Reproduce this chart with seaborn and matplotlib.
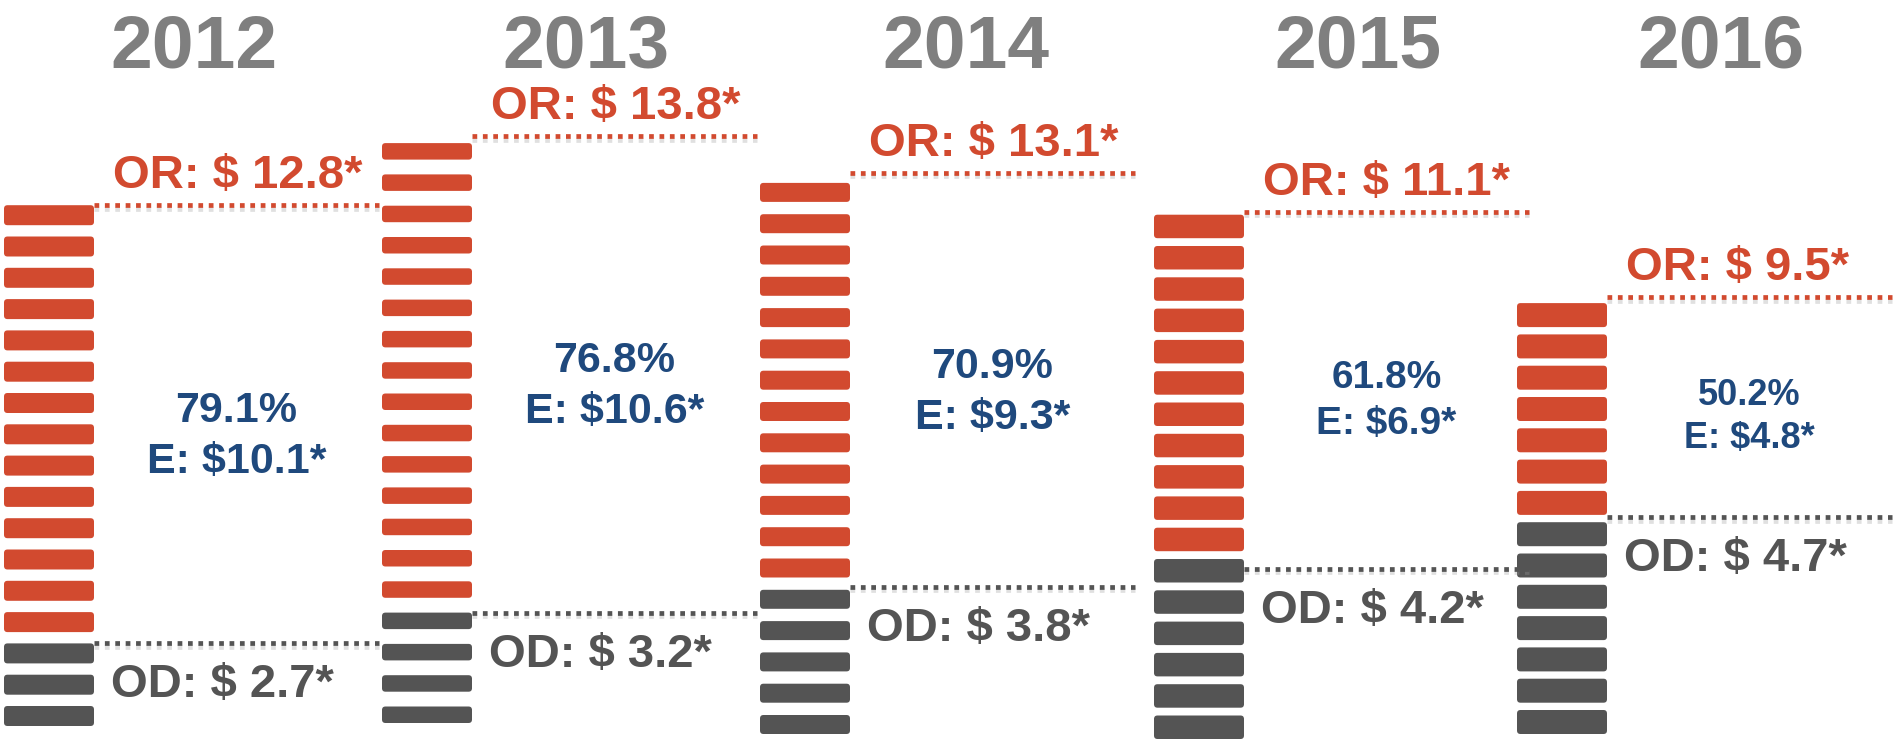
import matplotlib
matplotlib.use("Agg")
import matplotlib.pyplot as plt
import matplotlib.patheffects as pe
from matplotlib.patches import FancyBboxPatch
import seaborn as sns

# ---------------- data ----------------
years = ["2012", "2013", "2014", "2015", "2016"]
or_values = [12.8, 13.8, 13.1, 11.1, 9.5]
od_values = [2.7, 3.2, 3.8, 4.2, 4.7]
e_values = [10.1, 10.6, 9.3, 6.9, 4.8]
e_share = [79.1, 76.8, 70.9, 61.8, 50.2]
red_pills = [14, 15, 13, 11, 7]
dark_pills = [3, 4, 5, 6, 7]

# ---------------- layout (pixels) ----------------
W, H = 1893, 741
col_left = [4, 382, 760, 1154, 1517]
col_bottom = [726, 723, 734, 739, 734]
pill_h = [20, 16.5, 19, 23.5, 24]
pitch = 31.3
pill_w = 90
line_len = 285
or_line_lift = [0, 7, 10, 3, 6]
od_line_shift = [0, 0, -3, 10, -5]
year_cx = [194, 586, 966, 1358, 1721]
center_size = [31, 31, 31, 28, 26]

RED = "#D24A2F"
DARK = "#545454"
BLUE = "#1F497D"
GRAY = "#7F7F7F"

sns.set_theme(style="white")
plt.rcParams["font.family"] = ["Liberation Sans", "DejaVu Sans"]

fig = plt.figure(figsize=(W / 100, H / 100), dpi=100)
ax = fig.add_axes([0, 0, 1, 1])
ax.set_xlim(0, W)
ax.set_ylim(H, 0)
ax.axis("off")

shadow = [pe.SimpleLineShadow(offset=(0, -2.5), shadow_color="#9a9a9a", alpha=0.3),
          pe.Normal()]

for k, yr in enumerate(years):
    n_red, n_dark = red_pills[k], dark_pills[k]
    n = n_red + n_dark
    x0 = col_left[k]
    h = pill_h[k]
    # pills from bottom
    for i in range(n):
        ytop = col_bottom[k] - h - i * pitch
        color = DARK if i < n_dark else RED
        ax.add_patch(FancyBboxPatch((x0, ytop), pill_w, h,
                                    boxstyle="round,pad=0,rounding_size=3.5",
                                    fc=color, ec="none"))
    top = col_bottom[k] - h - (n - 1) * pitch
    dark_top = top + n_red * pitch
    or_y = top - or_line_lift[k]
    od_y = dark_top + od_line_shift[k]
    xr = x0 + pill_w
    for yy, c in ((or_y, RED), (od_y, DARK)):
        ax.plot([xr, xr + line_len], [yy, yy], color=c, lw=3.4,
                linestyle=(0, (1.0, 1.2)), dash_capstyle="butt",
                path_effects=shadow)

    # year
    ax.text(year_cx[k], 67, yr, ha="center", va="baseline",
            fontsize=54, fontweight="bold", color=GRAY)
    # OR label
    ax.text(xr + 19, or_y - 17, f"OR: $ {or_values[k]}*", ha="left",
            va="baseline", fontsize=34, fontweight="bold", color=RED)
    # OD label
    ax.text(xr + 17, od_y + 54, f"OD: $ {od_values[k]}*", ha="left",
            va="baseline", fontsize=34, fontweight="bold", color=DARK)
    # center E label
    cx = xr + line_len / 2
    mid = (or_y + od_y) / 2 - 2
    em = center_size[k] * 100 / 72
    ax.text(cx, mid, f"{e_share[k]}%", ha="center", va="baseline",
            fontsize=center_size[k], fontweight="bold", color=BLUE)
    ax.text(cx, mid + 1.18 * em, f"E: ${e_values[k]}*", ha="center",
            va="baseline", fontsize=center_size[k], fontweight="bold",
            color=BLUE)

fig.savefig("out.png", dpi=100)
